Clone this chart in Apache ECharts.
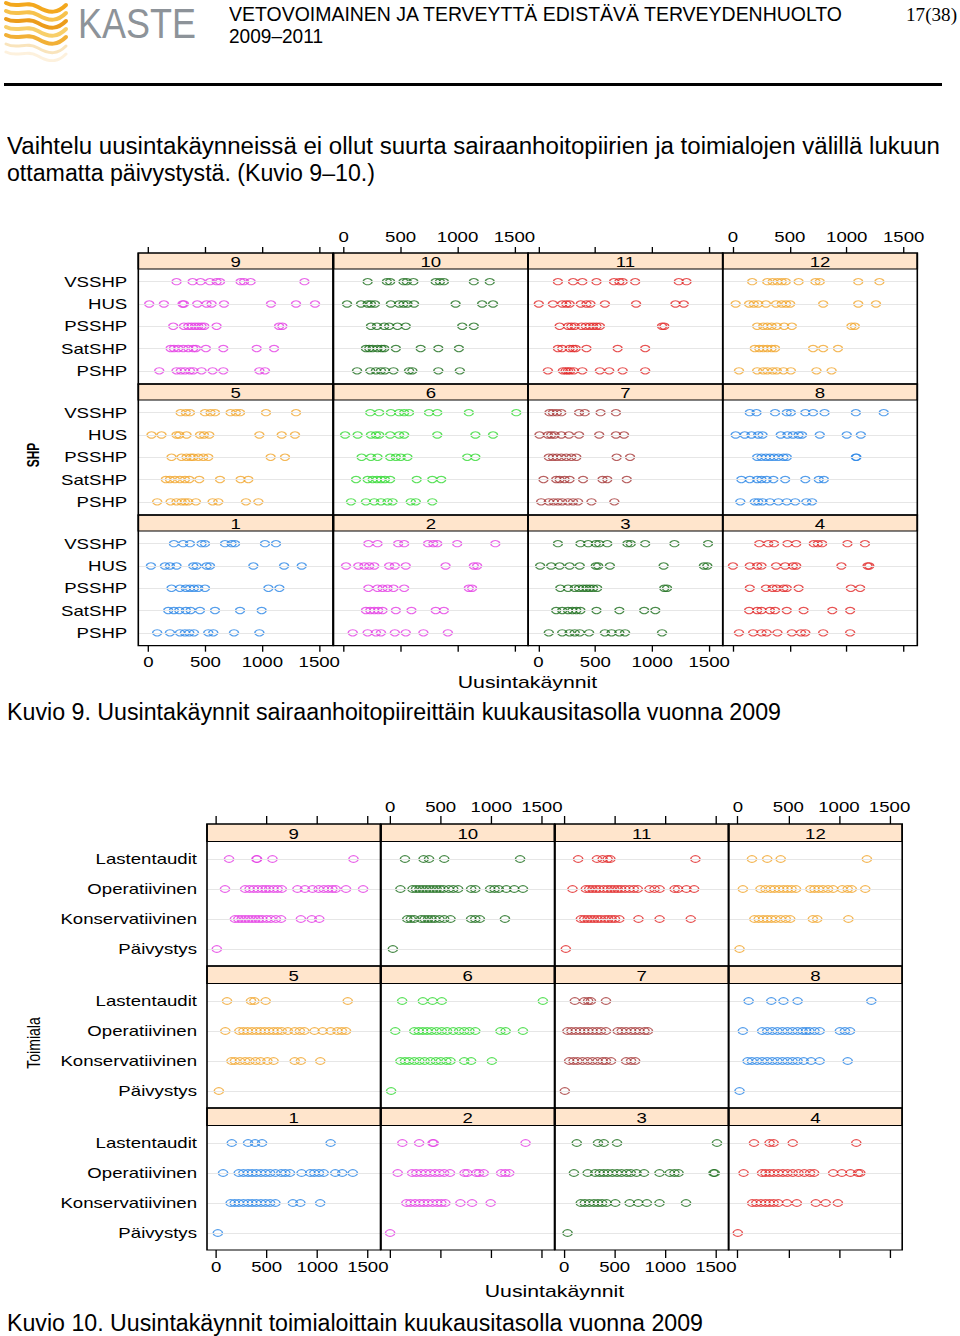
<!DOCTYPE html>
<html><head><meta charset="utf-8">
<script src="https://cdn.jsdelivr.net/npm/echarts@6.0.0/dist/echarts.min.js"></script>
<style>
html,body{margin:0;padding:0;background:#fff;width:960px;height:1336px;overflow:hidden;position:relative;}
#hr{position:absolute;left:4px;top:83px;width:938px;height:3px;background:#000;}
</style></head><body>
<svg id="logo" width="70" height="62" style="position:absolute;left:2px;top:0" viewBox="0 0 70 62">
  <g fill="none" stroke-linecap="round">
    <path d="M4 3 C16 9, 24 0, 36 7 S56 13, 64 5" stroke="#f3a81e" stroke-width="4"/>
    <path d="M4 11 C16 17, 24 8, 36 15 S56 21, 64 13" stroke="#f7c24c" stroke-width="4"/>
    <path d="M4 19 C16 25, 24 16, 36 23 S56 29, 64 21" stroke="#ec9c1b" stroke-width="4"/>
    <path d="M4 27 C16 33, 24 24, 36 31 S56 37, 64 29" stroke="#f8cf6a" stroke-width="4"/>
    <path d="M4 35 C16 41, 24 32, 36 39 S56 45, 64 37" stroke="#f2b036" stroke-width="4"/>
    <path d="M4 44 C16 50, 24 41, 36 48 S56 54, 64 46" stroke="#f7d9a0" stroke-width="3" opacity="0.7"/>
    <path d="M4 52 C16 58, 24 49, 36 56 S56 62, 64 54" stroke="#fbe8c6" stroke-width="3" opacity="0.6"/>
  </g>
</svg>
<div id="hr"></div>
<div id="c1"></div>
<div id="c2"></div>
<script>
// ---------------- DATA ----------------
const shpCategories = ['VSSHP','HUS','PSSHP','SatSHP','PSHP'];
const toimialaCategories = ['Lastentaudit','Operatiivinen','Konservatiivinen','Päivystys'];
const xTickValues = [0, 500, 1000, 1500];
const panelOrder = [9,10,11,12,5,6,7,8,1,2,3,4];

// Kuvio 9: Uusintakäynnit per SHP, month 1..12 (rows: VSSHP, HUS, PSSHP, SatSHP, PSHP)
const shpM1 = [[223,305,364,466,496,672,730,760,1023,1120],[21,144,188,246,393,422,510,540,921,1191,1346],[202,276,328,364,399,437,496,1053,1150],[173,223,270,328,370,452,584,804,994],[76,188,276,320,358,399,525,569,751,974]];
const shpM2 = [[216,297,478,531,741,787,822,997,1332],[20,128,181,224,268,399,449,545,895,1143,1172],[216,297,341,385,437,531,1099,1128],[195,233,268,303,341,458,595,808,880],[79,210,283,327,449,545,700,915]];
const shpM3 = [[171,369,437,504,534,605,782,811,938,1195,1490],[15,112,186,274,363,504,525,628,1100,1454,1484],[192,260,319,357,392,422,451,481,516,1106,1130],[156,209,260,298,333,369,510,711,929,1027],[91,209,274,319,363,445,584,643,711,761,1086]];
const shpM4 = [[231,311,361,479,556,710,746,784,1006,1160],[0,148,213,251,379,459,527,556,953,1183,1198],[148,290,349,385,444,473,577,1036,1118],[142,213,251,325,370,473,621,873,1030],[53,178,251,296,391,518,598,636,793,1030]];
const shpM5 = [[282,328,364,496,545,584,721,768,804,1032,1296],[26,114,246,270,334,452,487,534,974,1170,1287],[202,290,334,370,393,437,481,525,1073,1199],[152,188,232,276,320,358,446,628,809,877],[76,194,246,290,320,349,416,563,613,856,965]];
const shpM6 = [[233,312,414,487,531,574,749,822,1099,1516],[12,122,239,283,312,408,487,531,822,1157,1312],[157,239,297,408,458,501,560,1085,1157],[108,210,254,292,327,362,408,641,778,857],[64,195,268,327,385,429,589,633,778]];
const shpM7 = [[97,127,162,201,357,407,546,681],[9,83,112,142,201,268,357,534,681,752],[91,127,162,201,245,289,333,687,805],[44,156,186,230,274,392,563,605,776],[24,91,133,171,209,260,304,348,466,667]];
const shpM8 = [[148,207,370,473,509,636,704,805,1080,1325],[24,104,163,222,260,420,479,527,577,607,763,1000,1124],[213,251,290,325,361,399,444,473,1080,1085],[74,148,213,251,296,355,459,636,754,799],[65,192,222,260,325,399,473,547,645,695]];
const shpM9 = [[246,387,457,540,598,628,809,839,897,1370],[6,135,299,311,428,510,554,663,1076,1296,1463],[217,311,349,378,408,437,466,490,598,1147,1176],[194,223,261,305,349,393,416,504,657,950,1103],[94,246,284,320,364,393,466,563,657,974,1023]];
const shpM10 = [[210,379,408,525,554,612,808,845,880,1143,1283],[29,152,210,239,274,414,487,525,560,618,983,1216,1312],[239,292,356,399,472,545,1041,1143],[195,224,254,297,332,356,458,676,831,1012],[117,233,283,327,362,437,574,603,831,1020]];
const shpM11 = [[171,304,386,510,664,711,740,850,1233,1301],[3,127,209,245,274,372,422,457,584,858,1204,1277],[186,260,289,319,378,416,451,481,510,540,1086,1106],[171,209,274,304,327,422,696,938],[83,215,239,260,280,310,386,540,622,740,938]];
const shpM12 = [[169,302,349,391,429,464,577,725,763,1101,1287],[24,142,183,222,290,379,429,467,503,793,1101,1257],[213,266,302,340,385,450,518,1041,1071],[192,231,266,302,340,370,704,793,923],[53,213,266,302,349,385,444,509,734,867]];

// Kuvio 10: Uusintakäynnit per toimiala (rows: Lastentaudit, Operatiivinen, Konservatiivinen, Päivystys)
const tM1 = [[155,316,385,454,1132],[69,224,270,316,356,397,443,489,534,586,644,684,730,845,931,971,1017,1063,1178,1247,1351],[144,184,224,270,316,356,397,443,489,534,586,759,833,1029],[17]];
const tM2 = [[121,287,420,431,1339],[75,218,259,305,351,397,443,489,534,592,736,764,851,879,925,1098,1138,1178],[161,201,247,293,333,374,420,466,506,546,695,810,994],[0]];
const tM3 = [[125,335,392,523,1511],[97,233,307,352,392,432,477,523,568,619,659,716,790,943,1045,1091,1131,1477,1489],[165,205,250,295,335,375,420,506,648,733,818,943,1205],[34]];
const tM4 = [[160,314,354,543,1171],[57,240,274,314,354,400,446,491,543,600,657,714,754,943,1029,1114,1189,1211],[143,183,229,274,314,354,400,486,583,771,869,989],[0]];
const tM5 = [[108,345,378,490,1301],[91,230,270,311,355,399,439,480,524,568,608,649,709,777,828,872,973,1054,1132,1199,1243,1284],[152,186,236,287,331,389,439,507,568,777,838,1030],[27]];
const tM6 = [[119,324,419,511,1510],[51,239,283,324,365,409,460,511,563,624,682,733,784,842,1091,1142,1313],[102,147,188,239,290,341,399,453,501,556,597,733,801,1006],[10]];
const tM7 = [[106,199,238,265,414],[33,73,116,159,199,238,281,324,364,414,530,570,613,662,702,745,795,828],[50,93,132,182,232,281,331,381,414,464,613,662,702],[7]];
const tM8 = [[107,331,451,591,1320],[50,241,291,341,391,441,491,541,591,641,675,708,758,809,1009,1059,1109],[97,140,190,241,291,341,391,441,491,541,591,651,725,809,1086],[17]];
const tM9 = [[128,399,405,557,1358],[88,287,331,372,412,456,490,524,568,608,649,804,878,953,1014,1064,1108,1149,1182,1284,1453],[186,220,253,287,321,355,389,422,456,500,541,591,642,838,946,1020],[7]];
const tM10 = [[147,331,385,535,1285],[102,222,256,290,324,358,392,426,460,494,528,580,624,672,801,842,989,1033,1074,1149,1227,1313],[170,205,239,307,341,375,409,443,488,535,597,801,842,887,1135],[27]];
const tM11 = [[139,325,381,430,457,1298],[83,215,248,281,315,348,391,430,464,497,530,563,603,646,689,728,844,894,944,1093,1126,1209,1285],[166,199,232,265,298,331,364,404,437,470,503,546,735,944,1252],[17]];
const tM12 = [[140,291,424,1276],[50,224,274,324,364,408,451,491,531,575,718,758,799,842,892,942,1032,1086,1126,1260],[164,207,251,291,331,374,424,474,518,742,785,1093],[17]];

const shpByMonth = {1:shpM1,2:shpM2,3:shpM3,4:shpM4,5:shpM5,6:shpM6,7:shpM7,8:shpM8,9:shpM9,10:shpM10,11:shpM11,12:shpM12};
const tByMonth = {1:tM1,2:tM2,3:tM3,4:tM4,5:tM5,6:tM6,7:tM7,8:tM8,9:tM9,10:tM10,11:tM11,12:tM12};

// lattice superpose colours, cycled by month
const monthColors = ['#2a86e6','#e43fe4','#1d6e1d','#e12828','#f1a62e','#35d935','#a63a3a'];

// ---------------- PAGE TEXT ----------------
const SANS = '"Liberation Sans", Arial, Helvetica, sans-serif';
const SERIF = '"Liberation Serif", "Times New Roman", serif';
function fitText(t){
  const d = document.createElement('div');
  d.textContent = t.text;
  const lh = t.lh || 1;
  const asc = t.serif ? ((lh - 1.107)/2 + 0.891) : ((lh - 1.117)/2 + 0.905);
  d.style.cssText = `position:absolute;left:${t.left}px;top:${t.base - asc*t.fs}px;font-size:${t.fs}px;line-height:${lh*t.fs}px;font-family:${t.serif?SERIF:SANS};color:${t.color||'#000'};white-space:nowrap;transform-origin:0 0;`;
  document.body.appendChild(d);
  const w = d.getBoundingClientRect().width;
  d.style.transform = `scaleX(${(t.right - t.left)/w})`;
}
[
  {text:'KASTE', left:78, right:196, base:38.5, fs:42, lh:1.2, color:'#8d9399'},
  {text:'VETOVOIMAINEN JA TERVEYTTÄ EDISTÄVÄ TERVEYDENHUOLTO', left:229, right:842, base:21, fs:20},
  {text:'2009–2011', left:229, right:323, base:43, fs:20},
  {text:'17(38)', left:906, right:957, base:21, fs:19, serif:true},
  {text:'Vaihtelu uusintakäynneissä ei ollut suurta sairaanhoitopiirien ja toimialojen välillä lukuun', left:7, right:940, base:154, fs:23},
  {text:'ottamatta päivystystä. (Kuvio 9–10.)', left:7, right:375, base:181, fs:23},
  {text:'Kuvio 9. Uusintakäynnit sairaanhoitopiireittäin kuukausitasolla vuonna 2009', left:7, right:781, base:720, fs:23},
  {text:'Kuvio 10. Uusintakäynnit toimialoittain kuukausitasolla vuonna 2009', left:7, right:703, base:1331, fs:23}
].forEach(fitText);

// ---------------- CHARTS ----------------
const K = 1.33; // horizontal stretch of the original trellis graphics

function build(cfg){
  const el = document.getElementById(cfg.el);
  el.style.cssText = `position:absolute;left:0;top:${cfg.top}px;width:${960/K}px;height:${cfg.height}px;transform:scaleX(${K});transform-origin:0 0;`;
  const chart = echarts.init(el, null, {renderer:'svg'});
  const grids=[], xAxes=[], yAxes=[], series=[], graphics=[];
  panelOrder.forEach((m, i) => {
    const row = Math.floor(i/4), col = i%4;
    const left = cfg.colLefts[col]/K, width = cfg.colW/K;
    const stripTop = cfg.stripTops[row] - cfg.top;
    const panelBottom = (row < 2 ? cfg.stripTops[row+1] : cfg.stripTops[2] + cfg.rowH) - cfg.top;
    const gTop = stripTop + cfg.gridOff;
    const gBottom = gTop + cfg.gridH;
    grids.push({left:left, top:gTop, width:width, height:cfg.gridH});
    const showAxis = row !== 1;
    const showLabels = (row === 0 && col % 2 === 1) || (row === 2 && col % 2 === 0);
    xAxes.push({
      type:'value', gridIndex:i, min:cfg.xmin, max:cfg.xmax, show:showAxis,
      position: row === 0 ? 'top' : 'bottom',
      offset: row === 0 ? cfg.gridOff : (panelBottom - gBottom),
      axisLine:{show:false}, splitLine:{show:false},
      axisTick:{show:true, customValues:xTickValues, length:cfg.tickLen, lineStyle:{color:'#000', width:1}},
      axisLabel:{show:showLabels, customValues:xTickValues, formatter:v => String(v),
        fontSize:14, fontFamily:SANS, color:'#000', margin:cfg.tlMargin}
    });
    yAxes.push({
      type:'category', gridIndex:i, data:cfg.cats, inverse:true, boundaryGap:true,
      axisLine:{show:false}, axisTick:{show:false}, splitLine:{show:false},
      axisLabel:{show:col === 0, interval:0, fontSize:14, fontFamily:SANS, color:'#000', margin:cfg.ylMargin/K}
    });
    series.push({
      type:'scatter', xAxisIndex:i, yAxisIndex:i, data:[], silent:true, z:1,
      markLine:{silent:true, symbol:['none','none'], animation:false, label:{show:false},
        lineStyle:{color:'#e6e6e6', width:1, type:'solid'},
        emphasis:{disabled:true},
        data: cfg.cats.map((c, ci) => ({yAxis: ci}))}
    });
    const vals = cfg.data[m];
    const pts = [];
    cfg.cats.forEach((c, ci) => vals[ci].forEach(v => pts.push([v, c])));
    series.push({
      type:'scatter', xAxisIndex:i, yAxisIndex:i, z:3, symbol:'circle',
      symbolSize:[cfg.symW/K, cfg.symH], silent:true,
      itemStyle:{color:'rgba(0,0,0,0)', borderColor:monthColors[(m-1)%7], borderWidth:1.1},
      emphasis:{disabled:true},
      data:pts
    });
    graphics.push({type:'rect', z:99, silent:true, shape:{x:left, y:stripTop, width:width, height:cfg.stripH},
      style:{fill:'#ffe5cc', stroke:'#000', lineWidth:1.2}});
    graphics.push({type:'text', z:101, silent:true, x:left + width/2, y:stripTop + cfg.stripH/2 + 1,
      style:{text:String(m), fill:'#000', font:'14px ' + SANS, align:'center', verticalAlign:'middle', textAlign:'center', textVerticalAlign:'middle'}});
    graphics.push({type:'rect', z:100, silent:true, shape:{x:left, y:stripTop, width:width, height:panelBottom - stripTop},
      style:{fill:'none', stroke:'#000', lineWidth:1.2}});
  });
  graphics.push({type:'text', z:101, silent:true, x:cfg.xTitleX/K, y:cfg.xTitleY - cfg.top,
    style:{text:'Uusintakäynnit', fill:'#000', font:'16px ' + SANS, align:'center', verticalAlign:'middle', textAlign:'center', textVerticalAlign:'middle'}});
  graphics.push({type:'text', z:101, silent:true, x:cfg.yTitleX/K, y:cfg.yTitleY - cfg.top, rotation:Math.PI/2,
    style:{text:cfg.yTitle, fill:'#000', font:cfg.yTitleFont + ' ' + SANS, align:'center', verticalAlign:'middle', textAlign:'center', textVerticalAlign:'middle'}});
  chart.setOption({animation:false, grid:grids, xAxis:xAxes, yAxis:yAxes, series:series, graphic:{elements:graphics}});
}

build({
  el:'c1', top:225, height:475, cats:shpCategories, data:shpByMonth,
  colLefts:[138.3, 333.5, 528.2, 722.7], colW:194.6,
  stripTops:[253, 384, 515], rowH:130.7, stripH:16, gridOff:17.5, gridH:111.5,
  xmin:-90, xmax:1620, tickLen:6, tlMargin:9, ylMargin:11, symW:9, symH:6.3,
  xTitleX:527.5, xTitleY:682, yTitle:'SHP', yTitleX:33, yTitleY:455, yTitleFont:'bold 12px'
});
build({
  el:'c2', top:795, height:510, cats:toimialaCategories, data:tByMonth,
  colLefts:[207, 381, 555, 728.7], colW:173.5,
  stripTops:[824, 966, 1108], rowH:142, stripH:17.5, gridOff:20, gridH:120,
  xmin:-90, xmax:1625, tickLen:8, tlMargin:10, ylMargin:10, symW:9.3, symH:6.7,
  xTitleX:554.5, xTitleY:1291, yTitle:'Toimiala', yTitleX:33, yTitleY:1043, yTitleFont:'14px'
});
</script>
</body></html>
